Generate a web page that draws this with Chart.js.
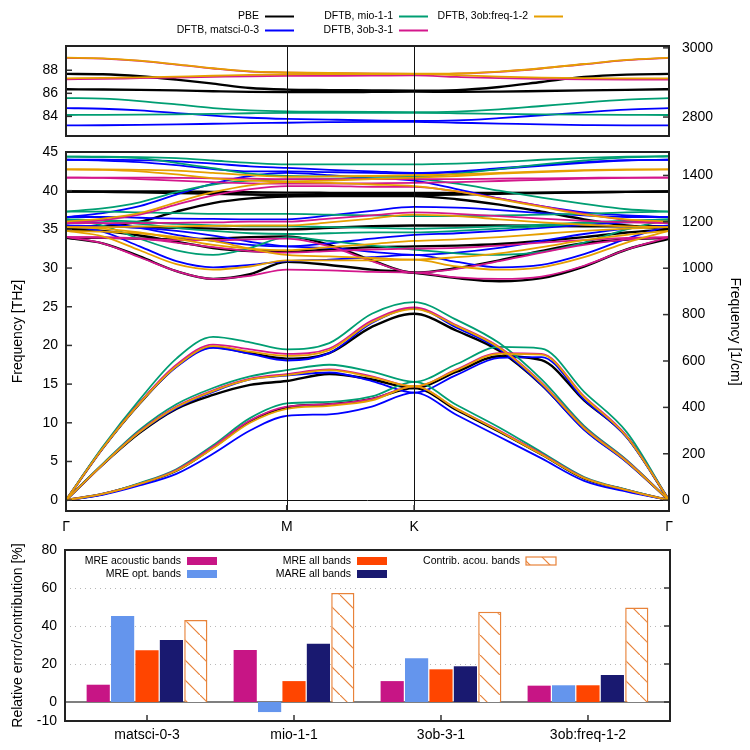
<!DOCTYPE html>
<html>
<head>
<meta charset="utf-8">
<script src="https://cdn.jsdelivr.net/npm/chart.js@4.4.1/dist/chart.umd.min.js"></script>
<style>
  body { margin: 0; background: #fff; width: 750px; height: 750px; position: relative; overflow: hidden; }
  .box { position: absolute; left: 0; width: 750px; }
</style>
</head>
<body>
<div class="box" style="top:0;height:140px"><canvas id="topChart" width="750" height="140"></canvas></div>
<div class="box" style="top:140px;height:395px"><canvas id="midChart" width="750" height="395"></canvas></div>
<div class="box" style="top:535px;height:215px"><canvas id="barChart" width="750" height="215"></canvas></div>
<script>
// path through the Brillouin zone: G - M - K - G
const pathX = [0, 0.144, 0.289, 0.433, 0.577, 0.722, 0.866, 1.033, 1.2, 1.366, 1.533, 1.7, 1.866, 2.033, 2.2, 2.366];
const pathTicks = [0, 0.866, 1.366, 2.366];
const pathLabels = ['Γ', 'M', 'K', 'Γ'];

const models = ['PBE', 'DFTB, matsci-0-3', 'DFTB, mio-1-1', 'DFTB, 3ob-3-1', 'DFTB, 3ob:freq-1-2'];
const modelColors = ['#000000', '#0000ff', '#009e73', '#d4178c', '#e69f00'];

const THZ_TO_CM = 33.356;
const topTicks = [84, 86, 88];
const topTicksCm = [2800, 3000];
const midTicks = [0, 5, 10, 15, 20, 25, 30, 35, 40, 45];
const midTicksCm = [0, 200, 400, 600, 800, 1000, 1200, 1400];

// C-H stretching bands (THz)
const pbeCH = [
  [87.68, 87.65, 87.48, 87.19, 86.84, 86.46, 86.32, 86.28, 86.25, 86.22, 86.27, 86.55, 86.98, 87.42, 87.62, 87.68],
  [86.35, 86.33, 86.30, 86.25, 86.18, 86.12, 86.10, 86.10, 86.12, 86.15, 86.12, 86.15, 86.20, 86.25, 86.30, 86.35]
];
const matsciCH = [
  [84.72, 84.66, 84.52, 84.29, 84.06, 83.88, 83.78, 83.72, 83.66, 83.60, 83.65, 83.85, 84.10, 84.35, 84.58, 84.72],
  [83.22, 83.23, 83.26, 83.30, 83.36, 83.42, 83.45, 83.50, 83.53, 83.52, 83.45, 83.38, 83.30, 83.25, 83.22, 83.22]
];
const mioCH = [
  [85.59, 85.54, 85.33, 85.04, 84.72, 84.52, 84.43, 84.40, 84.38, 84.37, 84.42, 84.60, 84.90, 85.20, 85.45, 85.59],
  [84.12, 84.13, 84.15, 84.18, 84.22, 84.27, 84.30, 84.30, 84.30, 84.30, 84.27, 84.22, 84.18, 84.15, 84.13, 84.12]
];
const ob3CH = [
  [89.07, 89.01, 88.81, 88.49, 88.15, 87.88, 87.80, 87.74, 87.70, 87.68, 87.71, 87.86, 88.15, 88.52, 88.87, 89.07],
  [87.22, 87.25, 87.31, 87.36, 87.42, 87.48, 87.51, 87.52, 87.53, 87.55, 87.42, 87.31, 87.25, 87.21, 87.19, 87.19]
];
const freqCH = [
  [89.09, 89.03, 88.83, 88.51, 88.17, 87.90, 87.82, 87.76, 87.72, 87.70, 87.73, 87.88, 88.17, 88.54, 88.89, 89.09],
  [87.30, 87.33, 87.38, 87.45, 87.52, 87.60, 87.65, 87.66, 87.67, 87.68, 87.58, 87.45, 87.36, 87.31, 87.30, 87.30]
];

// acoustic bands (THz)
const pbeAcoustic = [
  [0, 0.8, 2.1, 3.8, 6.8, 10.2, 12.0, 12.4, 13.1, 14.5, 11.65, 8.85, 5.9, 2.8, 1.3, 0],
  [0, 4.6, 8.7, 11.8, 13.6, 14.9, 15.4, 16.3, 15.6, 14.5, 16.6, 18.6, 18.1, 12.9, 8.2, 0],
  [0, 6.7, 12.5, 17.3, 19.8, 19.0, 18.3, 19.0, 22.4, 24.1, 21.9, 19.3, 14.9, 9.2, 5.0, 0]
];
const matsciAcoustic = [
  [0, 0.7, 1.9, 3.4, 6.0, 9.0, 10.9, 11.1, 12.1, 13.9, 11.0, 8.2, 5.4, 2.5, 1.1, 0],
  [0, 4.6, 8.8, 11.9, 14.0, 15.6, 16.1, 16.5, 15.4, 13.9, 16.2, 18.4, 18.5, 13.0, 8.1, 0],
  [0, 6.7, 12.5, 17.2, 19.7, 18.9, 18.05, 19.0, 22.9, 24.8, 22.3, 19.5, 14.9, 9.1, 4.9, 0]
];
const mioAcoustic = [
  [0, 0.8, 2.2, 4.0, 7.1, 10.6, 12.5, 12.7, 13.4, 15.3, 12.3, 9.4, 6.2, 3.0, 1.35, 0],
  [0, 4.7, 9.1, 12.4, 14.5, 16.0, 16.8, 17.5, 16.6, 15.3, 17.6, 19.8, 19.6, 14.0, 8.8, 0],
  [0, 6.9, 13.0, 18.3, 21.1, 20.4, 19.5, 20.3, 24.1, 25.6, 23.3, 20.3, 15.6, 9.6, 5.2, 0]
];
const ob3Acoustic = [
  [0, 0.8, 2.1, 3.9, 6.9, 10.3, 12.1, 12.4, 13.1, 14.7, 11.8, 9.0, 6.0, 2.9, 1.3, 0],
  [0, 4.6, 8.9, 12.1, 14.2, 15.7, 16.3, 16.9, 16.0, 14.7, 16.9, 19.0, 18.9, 13.4, 8.3, 0],
  [0, 6.7, 12.6, 17.5, 20.1, 19.5, 18.9, 19.6, 23.2, 24.9, 22.6, 19.8, 15.2, 9.4, 5.1, 0]
];
const freqAcoustic = [
  [0, 0.8, 2.1, 3.8, 6.7, 10.0, 11.8, 12.2, 12.9, 14.7, 11.8, 8.9, 5.9, 2.85, 1.3, 0],
  [0, 4.6, 8.8, 12.0, 14.1, 15.6, 16.15, 16.8, 15.9, 14.7, 16.8, 18.9, 18.8, 13.3, 8.2, 0],
  [0, 6.7, 12.5, 17.3, 19.9, 19.2, 18.65, 19.4, 23.0, 24.7, 22.5, 19.7, 15.1, 9.3, 5.0, 0]
];

// optical bands below the C-H stretch (THz)
const pbeOptical = [
  [39.9, 39.9, 39.9, 39.9, 39.85, 39.8, 39.75, 39.72, 39.7, 39.7, 39.7, 39.72, 39.75, 39.8, 39.85, 39.9],
  [39.9, 39.85, 39.8, 39.7, 39.6, 39.5, 39.45, 39.45, 39.45, 39.45, 39.5, 39.6, 39.7, 39.8, 39.85, 39.9],
  [35.0, 35.4, 36.0, 37.3, 38.4, 39.0, 39.25, 39.3, 39.3, 39.3, 38.9, 38.2, 37.3, 36.3, 35.5, 35.05],
  [35.4, 35.4, 35.3, 35.2, 35.1, 35.0, 35.0, 35.2, 35.4, 35.5, 35.5, 35.5, 35.45, 35.4, 35.4, 35.4],
  [35.0, 34.8, 34.2, 33.4, 32.6, 32.2, 32.1, 32.4, 32.7, 32.8, 32.9, 33.1, 33.5, 34.0, 34.6, 35.0],
  [33.9, 33.9, 33.8, 33.7, 33.8, 34.0, 34.1, 33.0, 31.0, 29.4, 30.0, 31.0, 32.2, 33.2, 33.7, 33.9],
  [33.9, 33.2, 31.5, 29.6, 28.6, 29.2, 30.8, 30.4, 29.8, 29.4, 28.7, 28.3, 28.7, 30.2, 32.4, 33.8]
];
const matsciOptical = [
  [44.0, 44.0, 43.95, 43.8, 43.5, 43.15, 42.95, 42.7, 42.5, 42.3, 42.5, 42.9, 43.3, 43.7, 43.95, 44.0],
  [44.0, 43.9, 43.7, 43.3, 42.8, 42.5, 42.5, 42.4, 42.3, 42.2, 42.4, 42.8, 43.2, 43.6, 43.9, 44.0],
  [36.6, 37.1, 38.0, 39.5, 40.9, 41.9, 42.3, 42.0, 41.6, 41.3, 40.2, 39.0, 38.0, 37.2, 36.8, 36.6],
  [36.6, 36.6, 36.5, 36.4, 36.35, 36.3, 36.3, 36.8, 37.4, 37.9, 37.8, 37.5, 37.1, 36.8, 36.6, 36.6],
  [36.1, 35.8, 35.2, 34.3, 33.5, 33.0, 32.8, 33.2, 33.8, 34.3, 34.5, 34.8, 35.2, 35.6, 35.9, 36.1],
  [35.5, 35.4, 35.2, 34.8, 34.2, 33.4, 32.8, 32.6, 32.1, 31.7, 32.0, 32.6, 33.5, 34.4, 35.1, 35.5],
  [35.5, 34.7, 32.8, 30.9, 30.1, 30.4, 30.9, 31.1, 31.4, 31.7, 30.8, 30.1, 30.4, 31.8, 33.8, 35.5]
];
const mioOptical = [
  [44.4, 44.4, 44.35, 44.2, 43.9, 43.6, 43.4, 43.4, 43.4, 43.4, 43.5, 43.7, 44.0, 44.25, 44.4, 44.45],
  [44.4, 44.35, 44.2, 43.6, 42.9, 42.2, 41.9, 41.85, 41.8, 41.8, 42.2, 42.8, 43.4, 43.9, 44.3, 44.45],
  [37.3, 37.7, 38.5, 39.8, 40.8, 41.3, 41.45, 41.5, 41.5, 41.5, 40.9, 40.0, 39.1, 38.3, 37.6, 37.3],
  [37.3, 37.3, 37.2, 37.1, 37.0, 37.0, 37.0, 36.9, 36.8, 36.7, 36.7, 36.8, 36.9, 37.0, 37.2, 37.3],
  [36.3, 36.1, 35.7, 35.2, 34.8, 34.5, 34.4, 34.5, 34.6, 34.6, 34.8, 35.1, 35.4, 35.8, 36.1, 36.3],
  [36.3, 36.2, 36.0, 35.7, 35.5, 35.4, 35.4, 35.3, 35.2, 35.1, 35.2, 35.4, 35.6, 35.9, 36.1, 36.3],
  [36.3, 35.5, 33.8, 32.3, 31.7, 32.6, 34.0, 33.5, 32.9, 32.4, 31.9, 31.7, 32.1, 33.3, 35.0, 36.3]
];
const ob3Optical = [
  [41.7, 41.7, 41.7, 41.65, 41.6, 41.55, 41.5, 41.5, 41.5, 41.5, 41.5, 41.55, 41.6, 41.65, 41.7, 41.7],
  [41.7, 41.65, 41.5, 41.3, 41.1, 40.95, 40.9, 40.9, 40.95, 41.0, 41.1, 41.25, 41.4, 41.55, 41.65, 41.7],
  [35.8, 36.2, 36.9, 38.2, 39.4, 40.2, 40.6, 40.6, 40.5, 40.5, 39.9, 39.0, 38.0, 37.0, 36.2, 35.8],
  [35.8, 35.8, 35.8, 35.85, 35.9, 36.0, 36.0, 36.4, 36.8, 37.2, 37.0, 36.7, 36.4, 36.1, 35.9, 35.8],
  [34.0, 34.0, 33.8, 33.3, 32.7, 32.2, 32.0, 32.2, 32.4, 32.5, 32.6, 32.9, 33.3, 33.6, 33.9, 34.0],
  [34.0, 33.9, 33.8, 33.6, 33.6, 33.7, 33.8, 32.8, 30.9, 29.4, 29.9, 30.9, 32.0, 33.0, 33.7, 34.0],
  [34.0, 33.2, 31.4, 29.6, 28.6, 29.0, 29.8, 29.7, 29.5, 29.4, 28.8, 28.6, 28.9, 30.3, 32.4, 34.0]
];
const freqOptical = [
  [42.75, 42.75, 42.7, 42.6, 42.3, 42.0, 41.8, 41.85, 41.9, 42.0, 42.1, 42.3, 42.5, 42.65, 42.75, 42.75],
  [42.75, 42.7, 42.5, 42.1, 41.6, 41.3, 41.2, 41.3, 41.5, 41.7, 41.9, 42.2, 42.4, 42.6, 42.7, 42.75],
  [36.0, 36.4, 37.1, 38.5, 39.8, 40.7, 41.1, 41.0, 40.8, 40.6, 39.9, 38.9, 37.9, 36.9, 36.3, 36.0],
  [35.3, 35.3, 35.35, 35.4, 35.45, 35.5, 35.5, 35.9, 36.4, 36.9, 36.7, 36.3, 35.9, 35.6, 35.4, 35.3],
  [35.3, 35.1, 34.6, 33.8, 33.0, 32.5, 32.3, 32.7, 33.1, 33.5, 33.7, 34.0, 34.4, 34.8, 35.1, 35.3],
  [34.8, 34.7, 34.5, 34.0, 33.5, 32.5, 31.7, 31.5, 31.3, 31.1, 31.4, 31.9, 32.7, 33.6, 34.3, 34.8],
  [34.8, 34.1, 32.3, 30.5, 29.8, 30.2, 31.0, 31.0, 31.0, 31.1, 30.2, 29.8, 30.1, 31.4, 33.3, 34.8]
];

// error statistics (%)
const barGroups = ['matsci-0-3', 'mio-1-1', '3ob-3-1', '3ob:freq-1-2'];
const mreAcoustic = [9.1, 27.4, 11.0, 8.6];
const mreOptical = [45.3, -5.3, 23.0, 8.8];
const mreAll = [27.2, 11.0, 17.2, 8.8];
const mareAll = [32.6, 30.7, 18.8, 14.2];
const contribAcoustic = [43.2, 57.4, 47.5, 49.8];
const barTicks = [-10, 0, 20, 40, 60, 80];
const barGrid = [20, 40, 60];

const stretchSets = [pbeCH, matsciCH, mioCH, ob3CH, freqCH];
const lowSets = [
  pbeAcoustic.concat(pbeOptical),
  matsciAcoustic.concat(matsciOptical),
  mioAcoustic.concat(mioOptical),
  ob3Acoustic.concat(ob3Optical),
  freqAcoustic.concat(freqOptical)
];

Chart.defaults.font.family = '"Liberation Sans", Arial, sans-serif';
Chart.defaults.color = '#000';
Chart.defaults.animation = false;

const tickFont = { size: 14 };

function bandDatasets(sets) {
  const out = [];
  sets.forEach((bands, m) => {
    bands.forEach(band => {
      out.push({
        label: models[m],
        data: band.map((y, i) => ({ x: pathX[i], y: y })),
        borderColor: modelColors[m],
        borderWidth: m === 0 ? 2.4 : 1.8,
        pointRadius: 0,
        fill: false,
        cubicInterpolationMode: 'monotone',
        order: models.length - m
      });
    });
  });
  return out;
}

function fixedTicks(list) {
  return function (scale) { scale.ticks = list.map(v => ({ value: v })); };
}

// fixed axis width, and no extra room reserved for the end labels
function fixWidth(w) {
  return function (s) { s.width = w; s.paddingTop = 0; s.paddingBottom = 0; };
}
function fixHeight(h) {
  return function (s) { s.height = h; s.paddingLeft = 0; s.paddingRight = 0; };
}

// gnuplot-like frame, inward tick marks and special-point lines
const framePlugin = {
  id: 'frame',
  afterDatasetsDraw(chart, args, opts) {
    const { ctx, chartArea: a, scales } = chart;
    ctx.save();
    ctx.strokeStyle = '#111';
    ctx.lineWidth = 1;
    (opts.vlines || []).forEach(v => {
      const x = Math.round(scales.x.getPixelForValue(v)) + 0.5;
      ctx.beginPath(); ctx.moveTo(x, a.top); ctx.lineTo(x, a.bottom); ctx.stroke();
    });
    if (opts.zeroLine) {
      const y = Math.round(scales.y.getPixelForValue(0)) + 0.5;
      ctx.beginPath(); ctx.moveTo(a.left, y); ctx.lineTo(a.right, y); ctx.stroke();
    }
    ctx.strokeStyle = '#333';
    ctx.lineWidth = 1.5;
    (opts.ticks || []).forEach(([id, side]) => {
      const s = scales[id];
      s.ticks.forEach(t => {
        const p = s.getPixelForValue(t.value);
        ctx.beginPath();
        if (side === 'left') { ctx.moveTo(a.left, p); ctx.lineTo(a.left + 6, p); }
        else if (side === 'right') { ctx.moveTo(a.right - 6, p); ctx.lineTo(a.right, p); }
        else { ctx.moveTo(p, a.bottom); ctx.lineTo(p, a.bottom - 6); }
        ctx.stroke();
      });
    });
    ctx.strokeStyle = '#222';
    ctx.lineWidth = 2;
    ctx.strokeRect(a.left, a.top, a.right - a.left, a.bottom - a.top);
    ctx.restore();
  }
};

// legend of the band plots, gnuplot style (text, then line sample)
const bandLegend = {
  id: 'bandLegend',
  afterDraw(chart) {
    const ctx = chart.ctx;
    const slots = [[259, 16], [259, 30], [393, 16], [393, 30], [528, 16]];
    ctx.save();
    ctx.font = '10.5px "Liberation Sans", Arial, sans-serif';
    ctx.textAlign = 'right';
    ctx.textBaseline = 'middle';
    models.forEach((name, m) => {
      const [x, y] = slots[m];
      ctx.fillStyle = '#000';
      ctx.fillText(name, x, y);
      ctx.strokeStyle = modelColors[m];
      ctx.lineWidth = 2;
      ctx.beginPath(); ctx.moveTo(x + 6, y + 0.5); ctx.lineTo(x + 35, y + 0.5); ctx.stroke();
    });
    ctx.restore();
  }
};

new Chart(document.getElementById('topChart'), {
  type: 'line',
  data: { datasets: bandDatasets(stretchSets) },
  options: {
    responsive: false,
    layout: { padding: { top: 46, bottom: 4, left: 0, right: 0 } },
    scales: {
      x: { type: 'linear', min: 0, max: 2.366, display: false },
      y: {
        position: 'left', min: 82.3, max: 90.1,
        afterFit: fixWidth(66),
        afterBuildTicks: fixedTicks(topTicks),
        ticks: { font: tickFont, padding: 8, callback: v => String(v) },
        grid: { display: false, drawTicks: false }, border: { display: false }
      },
      y2: {
        position: 'right', min: 82.3 * THZ_TO_CM, max: 90.1 * THZ_TO_CM,
        afterFit: fixWidth(81),
        afterBuildTicks: fixedTicks(topTicksCm),
        ticks: { font: tickFont, padding: 13, callback: v => String(v) },
        grid: { display: false, drawTicks: false }, border: { display: false }
      }
    },
    plugins: {
      legend: { display: false }, tooltip: { enabled: false },
      frame: { vlines: [pathTicks[1], pathTicks[2]], ticks: [['y', 'left'], ['y2', 'right']] }
    }
  },
  plugins: [framePlugin, bandLegend]
});

new Chart(document.getElementById('midChart'), {
  type: 'line',
  data: { datasets: bandDatasets(lowSets) },
  options: {
    responsive: false,
    layout: { padding: { top: 12, bottom: 0, left: 0, right: 0 } },
    scales: {
      x: {
        type: 'linear', min: 0, max: 2.366,
        afterFit: fixHeight(24),
        afterBuildTicks: fixedTicks(pathTicks),
        ticks: { font: tickFont, padding: 8, autoSkip: false, maxRotation: 0, callback: (v, i) => pathLabels[i] },
        grid: { display: false, drawTicks: false }, border: { display: false }
      },
      y: {
        position: 'left', min: -1.4, max: 45,
        afterFit: fixWidth(66),
        afterBuildTicks: fixedTicks(midTicks),
        title: { display: true, text: 'Frequency [THz]', font: { size: 14 }, padding: { top: 10, bottom: 0 } },
        ticks: { font: tickFont, padding: 8, callback: v => String(v) },
        grid: { display: false, drawTicks: false }, border: { display: false }
      },
      y2: {
        position: 'right', min: -1.4 * THZ_TO_CM, max: 45 * THZ_TO_CM,
        afterFit: fixWidth(81),
        afterBuildTicks: fixedTicks(midTicksCm),
        title: { display: true, text: 'Frequency [1/cm]', font: { size: 14 }, padding: { top: 7, bottom: 0 } },
        ticks: { font: tickFont, padding: 13, callback: v => String(v) },
        grid: { display: false, drawTicks: false }, border: { display: false }
      }
    },
    plugins: {
      legend: { display: false }, tooltip: { enabled: false },
      frame: {
        vlines: [pathTicks[1], pathTicks[2]], zeroLine: true,
        ticks: [['y', 'left'], ['y2', 'right'], ['x', 'bottom']]
      }
    }
  },
  plugins: [framePlugin]
});

function hatchPattern(color) {
  const s = 20;
  const c = document.createElement('canvas');
  c.width = s; c.height = s;
  const g = c.getContext('2d');
  g.fillStyle = '#fff';
  g.fillRect(0, 0, s, s);
  g.strokeStyle = color;
  g.lineWidth = 1.2;
  g.beginPath(); g.moveTo(-2, -2); g.lineTo(s + 2, s + 2); g.stroke();
  return g.createPattern(c, 'repeat');
}

const hatchColor = '#e8833a';
const hatch = hatchPattern(hatchColor);

const barGridPlugin = {
  id: 'barGrid',
  beforeDatasetsDraw(chart) {
    const { ctx, chartArea: a, scales } = chart;
    ctx.save();
    ctx.strokeStyle = '#b8b8b8';
    ctx.lineWidth = 1;
    ctx.setLineDash([1, 4]);
    barGrid.forEach(v => {
      const y = Math.round(scales.y.getPixelForValue(v)) + 0.5;
      ctx.beginPath(); ctx.moveTo(a.left, y); ctx.lineTo(a.right, y); ctx.stroke();
    });
    ctx.setLineDash([]);
    ctx.strokeStyle = '#555';
    ctx.lineWidth = 1.5;
    const y0 = scales.y.getPixelForValue(0);
    ctx.beginPath(); ctx.moveTo(a.left, y0); ctx.lineTo(a.right, y0); ctx.stroke();
    ctx.restore();
  },
  afterDraw(chart) {
    const ctx = chart.ctx;
    const slots = [[181, 26], [181, 39], [351, 26], [351, 39], [520, 26]];
    ctx.save();
    ctx.font = '10.5px "Liberation Sans", Arial, sans-serif';
    ctx.textAlign = 'right';
    ctx.textBaseline = 'middle';
    chart.data.datasets.forEach((ds, i) => {
      const [x, y] = slots[i];
      ctx.fillStyle = '#000';
      ctx.fillText(ds.label, x, y);
      ctx.fillStyle = ds.backgroundColor;
      ctx.fillRect(x + 6, y - 4, 30, 8);
      if (ds.borderWidth) {
        ctx.strokeStyle = ds.borderColor;
        ctx.lineWidth = 1.2;
        ctx.strokeRect(x + 6, y - 4, 30, 8);
      }
    });
    ctx.restore();
  }
};

function barSet(label, values, color, extra) {
  return Object.assign({
    label: label,
    data: values.map((v, i) => ({ x: i, y: v })),
    backgroundColor: color,
    borderWidth: 0
  }, extra || {});
}

new Chart(document.getElementById('barChart'), {
  type: 'bar',
  data: {
    datasets: [
      barSet('MRE acoustic bands', mreAcoustic, '#c71585'),
      barSet('MRE opt. bands', mreOptical, '#6495ed'),
      barSet('MRE all bands', mreAll, '#ff4500'),
      barSet('MARE all bands', mareAll, '#191970'),
      barSet('Contrib. acou. bands', contribAcoustic, hatch, { borderColor: hatchColor, borderWidth: 1.5 })
    ]
  },
  options: {
    responsive: false,
    layout: { padding: { top: 15, bottom: 0, left: 0, right: 80 } },
    datasets: { bar: { categoryPercentage: 0.83, barPercentage: 0.95 } },
    scales: {
      x: {
        type: 'linear', min: -0.558, max: 3.558, offset: false,
        afterFit: fixHeight(29),
        afterBuildTicks: fixedTicks([0, 1, 2, 3]),
        ticks: { font: tickFont, padding: 6, autoSkip: false, maxRotation: 0, callback: (v, i) => barGroups[i] },
        grid: { display: false, drawTicks: false }, border: { display: false }
      },
      y: {
        min: -10, max: 80,
        afterFit: fixWidth(65),
        afterBuildTicks: fixedTicks(barTicks),
        title: { display: true, text: 'Relative error/contribution [%]', font: { size: 14 }, padding: { top: 10, bottom: 0 } },
        ticks: { font: tickFont, padding: 8, callback: v => String(v) },
        grid: { display: false, drawTicks: false }, border: { display: false }
      }
    },
    plugins: {
      legend: { display: false }, tooltip: { enabled: false },
      frame: { ticks: [['x', 'bottom'], ['y', 'right']] }
    }
  },
  plugins: [barGridPlugin, framePlugin]
});
</script>
</body>
</html>
